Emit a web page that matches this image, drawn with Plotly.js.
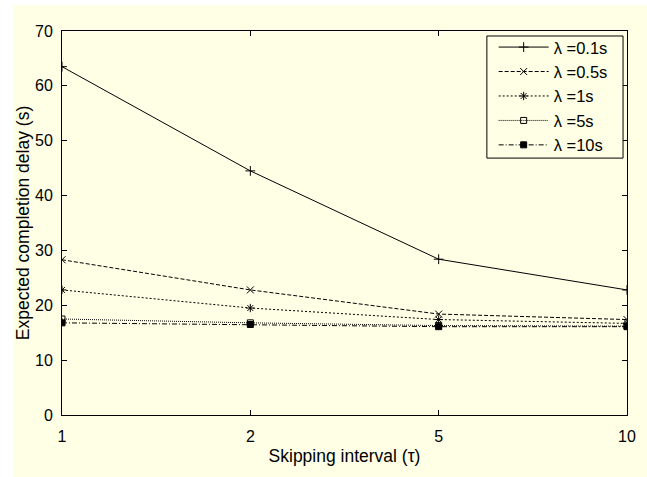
<!DOCTYPE html>
<html>
<head>
<meta charset="utf-8">
<script src="https://cdn.plot.ly/plotly-3.0.1.min.js"></script>
<style>
html,body{margin:0;padding:0;background:#ffffff;width:647px;height:477px;overflow:hidden;}
#chart{position:absolute;left:13px;top:5px;width:634px;height:472px;}
</style>
</head>
<body>
<div id="chart"></div>
<script>
const categories = ['1', '2', '5', '10'];
const seriesNames = ['λ =0.1s', 'λ =0.5s', 'λ =1s', 'λ =5s', 'λ =10s'];
const lambda01 = [63.5, 44.5, 28.4, 22.8];
const lambda05 = [28.3, 22.8, 18.4, 17.4];
const lambda1  = [22.8, 19.5, 17.4, 16.7];
const lambda5  = [17.5, 16.8, 16.3, 16.2];
const lambda10 = [16.8, 16.5, 16.1, 16.1];
const yTicks = [0, 10, 20, 30, 40, 50, 60, 70];

const bg = 'rgb(255,255,230)';
const allValues = [lambda01, lambda05, lambda1, lambda5, lambda10];
const styles = [
  {dash: 'solid', symbol: 'cross-thin-open', size: 7},
  {dash: '4px,2px', symbol: 'x-thin-open', size: 7},
  {dash: '2px,2px', symbol: 'asterisk-open', size: 7},
  {dash: '1px,1px', symbol: 'square-open', size: 6},
  {dash: '5px,2px,1px,2px', symbol: 'square', size: 6}
];

const traces = allValues.map((vals, i) => ({
  type: 'scatter',
  mode: 'lines+markers',
  x: categories,
  y: vals,
  name: seriesNames[i],
  line: {color: 'black', width: 1, dash: styles[i].dash},
  marker: {symbol: styles[i].symbol, size: styles[i].size, color: 'black',
           line: {color: 'black', width: 1}}
}));

const font = {family: 'Liberation Sans, Arial, sans-serif', color: 'black'};

const layout = {
  width: 634, height: 472,
  margin: {l: 49, r: 20, t: 26, b: 62},
  paper_bgcolor: bg,
  plot_bgcolor: bg,
  font: Object.assign({size: 16}, font),
  showlegend: true,
  legend: {
    x: 0.764, xanchor: 'left', y: 1.003, yanchor: 'top',
    bgcolor: 'rgba(0,0,0,0)', borderwidth: 0,
    font: Object.assign({size: 16.5}, font),
    itemwidth: 50
  },
  shapes: [{
    type: 'rect', xref: 'paper', yref: 'paper', layer: 'above',
    x0: 0.752, x1: 0.993, y0: 0.669, y1: 0.987,
    line: {color: 'black', width: 1}, fillcolor: bg
  }],
  xaxis: {
    type: 'category',
    categoryorder: 'array', categoryarray: categories,
    range: [0, 3],
    showgrid: false, zeroline: false,
    showline: true, linecolor: 'black', linewidth: 1, mirror: 'ticks',
    ticks: 'inside', ticklen: 5, tickcolor: 'black',
    ticklabelstandoff: 7,
    tickfont: Object.assign({size: 16}, font),
    title: {text: 'Skipping interval (τ)', font: Object.assign({size: 17.5}, font), standoff: 5}
  },
  yaxis: {
    range: [0, 70],
    tickvals: yTicks,
    showgrid: false, zeroline: false,
    showline: true, linecolor: 'black', linewidth: 1, mirror: 'ticks',
    ticks: 'inside', ticklen: 5, tickcolor: 'black',
    ticklabelstandoff: 5,
    tickfont: Object.assign({size: 16}, font),
    title: {text: 'Expected completion delay (s)', font: Object.assign({size: 17.5}, font), standoff: 12}
  }
};

Plotly.newPlot('chart', traces, layout, {displayModeBar: false, staticPlot: true});
</script>
</body>
</html>
